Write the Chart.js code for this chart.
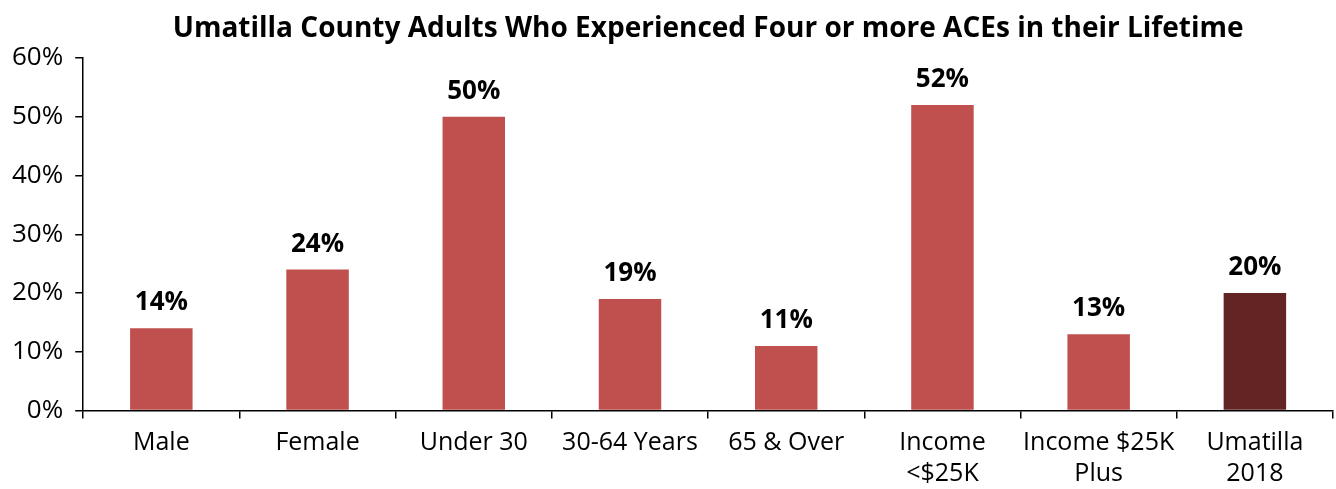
<!DOCTYPE html>
<html>
<head>
<meta charset="utf-8">
<script src="https://cdn.jsdelivr.net/npm/chart.js@4"></script>
<style>
  html, body { margin: 0; padding: 0; background: #fff; }
  #wrap { width: 1336px; height: 489px; }
</style>
</head>
<body>
<div id="wrap"><canvas id="myChart"></canvas></div>
<script>
// ACEs by group, percent of adults
const categories = [
  'Male', 'Female', 'Under 30', '30-64 Years', '65 & Over',
  ['Income', '<$25K'], ['Income $25K', 'Plus'], ['Umatilla', '2018']
];
const values = [14, 24, 50, 19, 11, 52, 13, 20];
const barColors = ['#C0504D', '#C0504D', '#C0504D', '#C0504D', '#C0504D', '#C0504D', '#C0504D', '#632523'];
const yTicks = [0, 10, 20, 30, 40, 50, 60];
const chartTitle = 'Umatilla County Adults Who Experienced Four or more ACEs in their Lifetime';

const fontFamily = '"Open Sans", "Noto Sans", sans-serif';

// bold value above each bar, and the title centred over the plot area
const valueLabels = {
  id: 'valueLabels',
  afterDatasetsDraw(chart) {
    const ctx = chart.ctx;
    const meta = chart.getDatasetMeta(0);
    const area = chart.chartArea;
    ctx.save();
    ctx.fillStyle = '#000';
    ctx.textAlign = 'center';
    ctx.textBaseline = 'alphabetic';
    ctx.font = 'bold 26px ' + fontFamily;
    meta.data.forEach((bar, i) => {
      ctx.fillText(values[i] + '%', bar.x, bar.y - 18);
    });
    ctx.font = 'bold 28px ' + fontFamily;
    ctx.fillText(chartTitle, (area.left + area.right) / 2, 37);
    ctx.restore();
  }
};

document.addEventListener('DOMContentLoaded', function () {
  const ctx = document.getElementById('myChart').getContext('2d');
  new Chart(ctx, {
    type: 'bar',
    data: {
      labels: categories,
      datasets: [{
        data: values,
        backgroundColor: barColors,
        categoryPercentage: 0.8,
        barPercentage: 0.5,
      }]
    },
    options: {
      responsive: true,
      maintainAspectRatio: false,
      animation: false,
      layout: { padding: { left: 0, right: 3, top: 58, bottom: -9 } },
      plugins: {
        legend: { display: false },
        tooltip: { enabled: false },
        title: { display: false },
      },
      scales: {
        x: {
          grid: {
            display: true,
            drawOnChartArea: false,
            drawTicks: true,
            tickLength: 8,
            color: '#000',
            lineWidth: 1.5,
            offset: true,
          },
          border: { display: true, color: '#000', width: 1.5 },
          ticks: {
            color: '#000',
            maxRotation: 0,
            autoSkip: false,
            padding: 8,
            font: { family: fontFamily, size: 25, lineHeight: 1.27 },
          }
        },
        y: {
          min: 0,
          max: 60,
          afterBuildTicks: axis => { axis.ticks = yTicks.map(v => ({ value: v })); },
          grid: {
            display: true,
            drawOnChartArea: false,
            drawTicks: true,
            tickLength: 8,
            color: '#000',
            lineWidth: 1.5,
          },
          border: { display: true, color: '#000', width: 1.5 },
          ticks: {
            color: '#000',
            padding: 12,
            font: { family: fontFamily, size: 26 },
            callback: v => v + '%',
          }
        }
      }
    },
    plugins: [valueLabels]
  });
});
</script>
</body>
</html>
